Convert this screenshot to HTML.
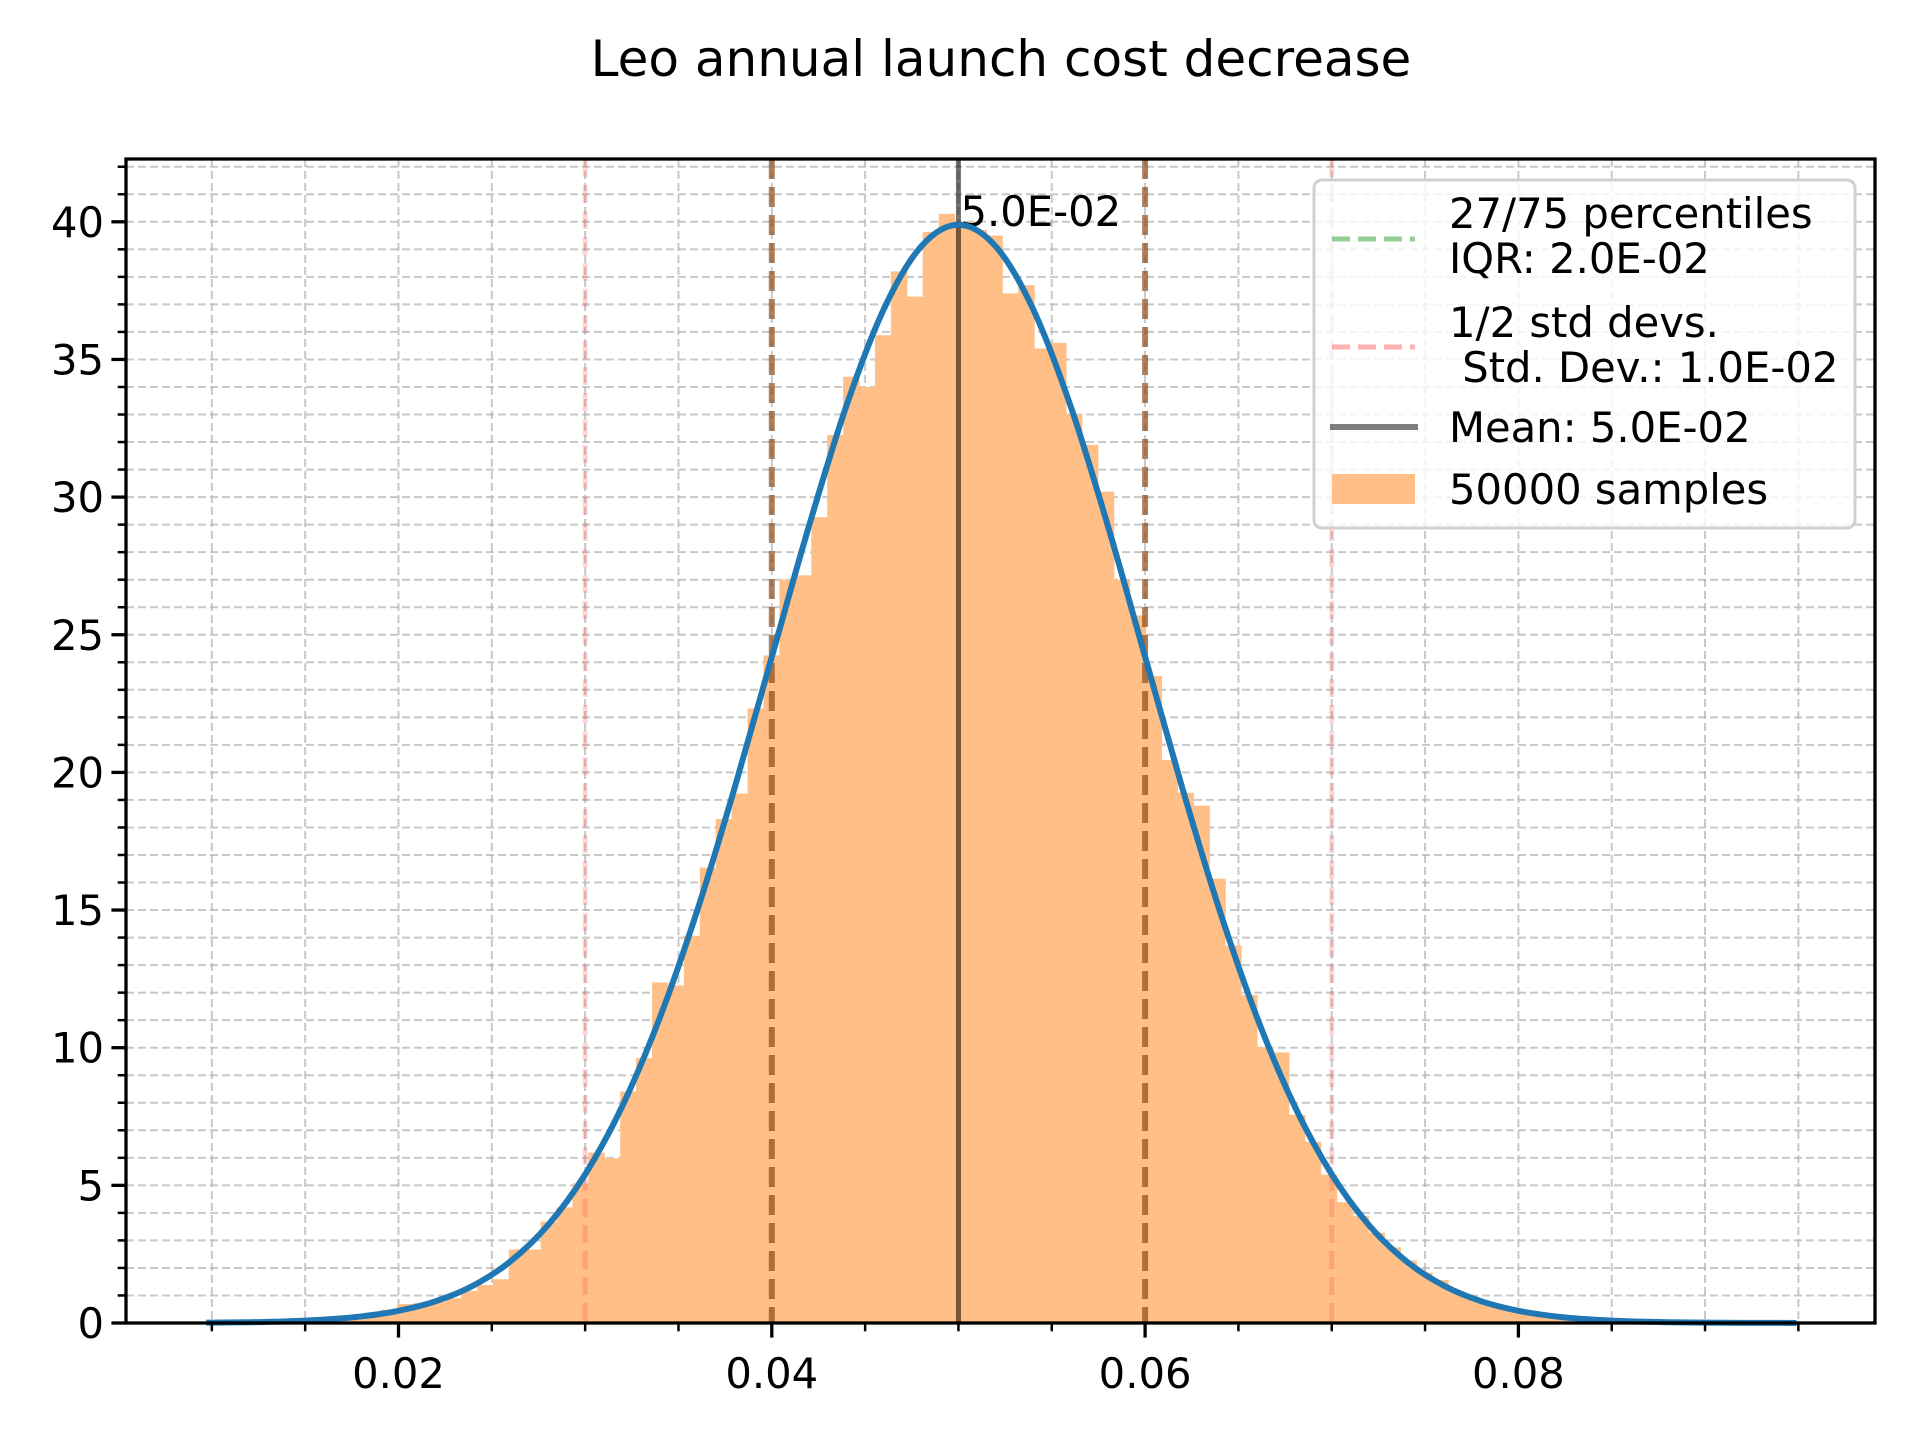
<!DOCTYPE html>
<html><head><meta charset="utf-8"><style>
html,body{margin:0;padding:0;background:#fff}
svg{display:block}
text{font-family:"DejaVu Sans","Liberation Sans",sans-serif;fill:#000}
</style></head><body>
<svg id="chart" width="1920" height="1440" viewBox="0 0 1920 1440" xmlns="http://www.w3.org/2000/svg">
<text x="1001" y="76" font-size="50" text-anchor="middle">Leo annual launch cost decrease</text>
<g id="grid"></g>
<g id="bars"></g>
<g id="vlines"></g>
<g id="curve"></g>
<g id="axes"></g>
<g id="legend"></g>
</svg>
<script>
const binStart = 0.0097;
const binWidth = 0.000853;
const binHeights = [0,0,0.02,0.04,0.05,0.07,0.1,0.13,0.2,0.28,
0.37,0.48,0.69,0.72,0.77,0.9,1.17,1.38,1.59,2.67,
2.67,3.68,4.2,5.07,6.19,5.98,8.41,9.62,12.37,12.26,
14.06,16.54,18.31,19.23,22.32,24.25,27.0,27.16,29.27,32.26,
34.37,34.0,35.88,38.2,37.28,39.63,40.29,40.0,39.7,39.5,
37.4,37.7,35.4,35.6,33.0,31.9,30.2,27.0,25.7,23.5,
20.45,19.26,18.79,16.14,13.71,11.91,10.02,9.83,7.56,6.58,
5.39,4.39,3.89,3.28,2.75,2.27,1.83,1.56,1.16,0.91,
0.75,0.6,0.45,0.33,0.25,0.18,0.12,0.09,0.06,0.05,
0.03,0.02,0.02,0.01,0.01,0,0,0,0,0.02];
const curveX = [0.0097,0.010,0.012,0.014,0.016,0.018,0.020,0.022,0.024,0.026,0.028,0.030,0.032,0.034,0.036,0.038,0.040,0.042,0.044,0.046,0.048,0.050,0.052,0.054,0.056,0.058,0.060,0.062,0.064,0.066,0.068,0.070,0.072,0.074,0.076,0.078,0.080,0.082,0.084,0.086,0.088,0.090,0.092,0.094,0.0949];
const curveY = [0.0125,0.0134,0.0292,0.0612,0.1232,0.2384,0.4432,0.7916,1.3583,2.2394,3.5475,5.3991,7.895,11.092,14.973,19.419,24.197,28.969,33.322,36.827,39.104,39.894,39.104,36.827,33.322,28.969,24.197,19.419,14.973,11.092,7.895,5.3991,3.5475,2.2394,1.3583,0.7916,0.4432,0.2384,0.1232,0.0612,0.0292,0.0134,0.0059,0.0025,0.0016];
const xTicks = [0.02,0.04,0.06,0.08];
const xTickLabels = ["0.02","0.04","0.06","0.08"];
const yTicks = [0,5,10,15,20,25,30,35,40];
const yTickLabels = ["0","5","10","15","20","25","30","35","40"];
const meanValue = 0.05;
const iqrLines = [0.04,0.06];
const stdLines = [0.03,0.07];
const meanLabel = "5.0E-02";

const L=126,R=1875,T=159,B=1323;
const X = v => 398.5 + (v-0.02)*18665;
const Y = v => B - v*27.53;
const NS="http://www.w3.org/2000/svg";
function mk(tag, parent, attrs){const e=document.createElementNS(NS,tag);for(const k in attrs)e.setAttribute(k,attrs[k]);parent.appendChild(e);return e;}

const grid=document.getElementById('grid');
for(let v=0.01; v<=0.0951; v+=0.005){
  const x=X(v); if(x<L||x>R) continue;
  const g=mk('line',grid,{x1:x,x2:x,y1:T,y2:B,stroke:'#b0b0b0','stroke-width':2,'stroke-dasharray':'8,4','stroke-opacity':0.7});
  
  
}
for(let v=1; v<=42; v++){
  const y=Y(v);
  const g=mk('line',grid,{x1:L,x2:R,y1:y,y2:y,stroke:'#b0b0b0','stroke-width':2,'stroke-dasharray':'8,4','stroke-opacity':0.7});
  
  
}

const bars=document.getElementById('bars');
binHeights.forEach((h,i)=>{
  if(h<=0) return;
  const x0=X(binStart+i*binWidth), x1=X(binStart+(i+1)*binWidth);
  const r=mk('rect',bars,{x:x0,y:Y(h),width:x1-x0+0.5,height:B-Y(h),fill:'#ffbf86'});
  
  
});

const vl=document.getElementById('vlines');
stdLines.forEach(v=>{
  const l=mk('line',vl,{x1:X(v),x2:X(v),y1:T,y2:B,stroke:'rgba(255,60,60,0.22)','stroke-width':5,'stroke-dasharray':'18,8'});
  
  
});
iqrLines.forEach(v=>{
  const l=mk('line',vl,{x1:X(v),x2:X(v),y1:T,y2:B,stroke:'rgba(140,75,25,0.7)','stroke-width':6,'stroke-dasharray':'20,8'});
  
  
});
const ml=mk('line',vl,{x1:X(meanValue),x2:X(meanValue),y1:T,y2:B,stroke:'rgba(0,0,0,0.55)','stroke-width':5});


const mt=mk('text',vl,{x:X(meanValue)+2,y:226,'font-size':41.7});
mt.textContent=meanLabel;



const cg=document.getElementById('curve');
let d='';
const pts=curveX.map((v,i)=>[X(v),Y(curveY[i])]);
d='M'+pts[0][0]+','+pts[0][1];
for(let i=0;i<pts.length-1;i++){
  const p0=pts[Math.max(0,i-1)],p1=pts[i],p2=pts[i+1],p3=pts[Math.min(pts.length-1,i+2)];
  const c1=[p1[0]+(p2[0]-p0[0])/6,p1[1]+(p2[1]-p0[1])/6];
  const c2=[p2[0]-(p3[0]-p1[0])/6,p2[1]-(p3[1]-p1[1])/6];
  d+=' C'+c1.join(',')+' '+c2.join(',')+' '+p2.join(',');
}
const cp=mk('path',cg,{d:d,fill:'none',stroke:'#1f77b4','stroke-width':6,'stroke-linejoin':'round'});



const ax=document.getElementById('axes');
const frame=mk('rect',ax,{x:L,y:T,width:R-L,height:B-T,fill:'none',stroke:'#000','stroke-width':3.3});


for(let v=0.01; v<=0.0951; v+=0.005){
  const x=X(v); if(x<L||x>R) continue;
  const t=mk('line',ax,{x1:x,x2:x,y1:B,y2:B+8.3,stroke:'#000','stroke-width':2.5});
  
  
}
xTicks.forEach((v,i)=>{
  const t=mk('line',ax,{x1:X(v),x2:X(v),y1:B,y2:B+14.6,stroke:'#000','stroke-width':3.3});
  
  
  const tx=mk('text',ax,{x:X(v),y:1388,'font-size':41.7,'text-anchor':'middle'});
  tx.textContent=xTickLabels[i];
  
  
});
for(let v=1; v<=42; v++){
  const t=mk('line',ax,{x1:L-8.3,x2:L,y1:Y(v),y2:Y(v),stroke:'#000','stroke-width':2.5});
  
  
}
yTicks.forEach((v,i)=>{
  const t=mk('line',ax,{x1:L-14.6,x2:L,y1:Y(v),y2:Y(v),stroke:'#000','stroke-width':3.3});
  
  
  const tx=mk('text',ax,{x:104,y:Y(v)+15,'font-size':41.7,'text-anchor':'end'});
  tx.textContent=yTickLabels[i];
  
  
});

const lg=document.getElementById('legend');
const box=mk('rect',lg,{x:1314,y:180,width:541,height:348,rx:8,fill:'rgba(255,255,255,0.8)',stroke:'#d0d0d0','stroke-width':3});


const entries=[
 {name:'legend-percentiles',hy:239,type:'dash',color:'rgba(44,160,44,0.5)',lines:[['27/75 percentiles',228],['IQR: 2.0E-02',273]]},
 {name:'legend-std-devs',hy:347,type:'dash',color:'rgba(255,0,0,0.3)',lines:[['1/2 std devs.',337],['\u00a0Std. Dev.: 1.0E-02',382]]},
 {name:'legend-mean',hy:427,type:'solid',color:'rgba(0,0,0,0.5)',lines:[['Mean: 5.0E-02',442]]},
 {name:'legend-samples',hy:489,type:'patch',color:'#ffbf86',lines:[['50000 samples',504]]}
];
entries.forEach(e=>{
  const g=mk('g',lg,{});
  
  
  if(e.type==='patch'){ mk('rect',g,{x:1332,y:e.hy-15,width:83,height:30,fill:e.color}); }
  else if(e.type==='dash'){ mk('line',g,{x1:1332,x2:1415,y1:e.hy,y2:e.hy,stroke:e.color,'stroke-width':5,'stroke-dasharray':'18,8'}); }
  else { mk('line',g,{x1:1330,x2:1418,y1:e.hy,y2:e.hy,stroke:e.color,'stroke-width':6}); }
  e.lines.forEach(l=>{ const t=mk('text',g,{x:1449,y:l[1],'font-size':41.7}); t.textContent=l[0]; });
});
</script>
</body></html>
